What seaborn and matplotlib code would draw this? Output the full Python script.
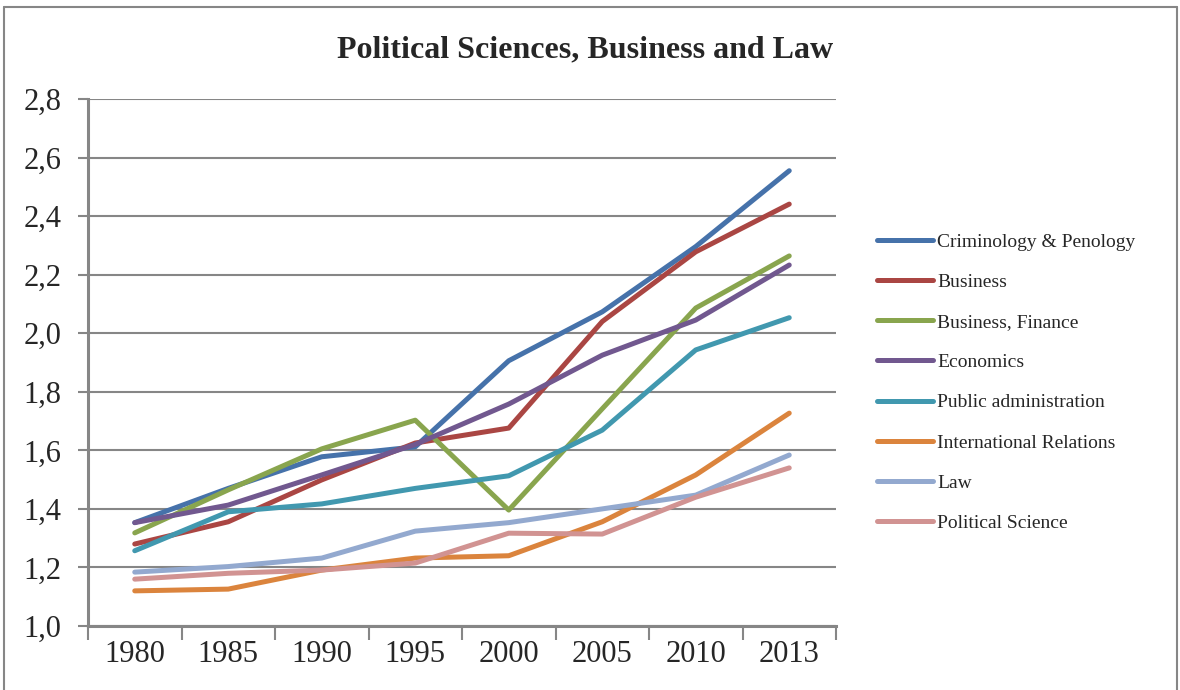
import pandas as pd
import matplotlib
matplotlib.use("Agg")
import matplotlib.pyplot as plt
from matplotlib.lines import Line2D
from matplotlib.ticker import FixedLocator, FuncFormatter, NullFormatter
import seaborn as sns

# data
years = ["1980", "1985", "1990", "1995", "2000", "2005", "2010", "2013"]
criminology = [1.353, 1.47, 1.578, 1.612, 1.906, 2.073, 2.296, 2.555]
business = [1.28, 1.356, 1.499, 1.625, 1.676, 2.04, 2.278, 2.441]
business_finance = [1.318, 1.465, 1.605, 1.703, 1.396, 1.742, 2.086, 2.264]
economics = [1.353, 1.413, 1.516, 1.62, 1.758, 1.925, 2.045, 2.233]
public_admin = [1.257, 1.39, 1.417, 1.47, 1.513, 1.669, 1.943, 2.053]
intl_relations = [1.12, 1.126, 1.191, 1.232, 1.24, 1.356, 1.516, 1.727]
law = [1.184, 1.203, 1.232, 1.324, 1.353, 1.40, 1.447, 1.584]
political_science = [1.16, 1.18, 1.191, 1.215, 1.317, 1.314, 1.44, 1.54]

series = {
    "Criminology & Penology": criminology,
    "Business": business,
    "Business, Finance": business_finance,
    "Economics": economics,
    "Public administration": public_admin,
    "International Relations": intl_relations,
    "Law": law,
    "Political Science": political_science,
}
colors = ["#4672AA", "#AA4643", "#89A54E", "#71588F",
          "#4198AF", "#DB843D", "#93A9CF", "#D19392"]

rows = []
for name, vals in series.items():
    for yr, v in zip(years, vals):
        rows.append({"Year": yr, "Value": v, "Series": name})
df = pd.DataFrame(rows)

sns.set_theme(style="white")
plt.rcParams["font.family"] = ["Liberation Serif", "DejaVu Serif"]

fig = plt.figure(figsize=(11.8, 6.9), dpi=100)
ax = fig.add_axes([88 / 1180, 64 / 690, 748 / 1180, 527 / 690])

palette = dict(zip(series.keys(), colors))
sns.lineplot(data=df, x="Year", y="Value", hue="Series", palette=palette,
             hue_order=list(series.keys()), sort=False, errorbar=None,
             linewidth=3.6, legend=False, ax=ax)
for ln in ax.lines:
    ln.set_solid_capstyle("round")
    ln.set_solid_joinstyle("round")

grid_col = "#868686"
ax.set_ylim(1.0, 2.8)
ax.set_yticks([1.0 + 0.2 * i for i in range(10)])
ax.yaxis.set_major_formatter(FuncFormatter(lambda v, p: f"{v:.1f}".replace(".", ",")))
ax.yaxis.grid(True, color=grid_col, linewidth=1.5)
ax.set_axisbelow(True)

ax.set_xlim(-0.5, len(years) - 0.5)
ax.xaxis.set_major_locator(FixedLocator([i - 0.5 for i in range(len(years) + 1)]))
ax.xaxis.set_major_formatter(NullFormatter())
ax.xaxis.set_minor_locator(FixedLocator(list(range(len(years)))))
ax.set_xticklabels(years, minor=True)
ax.tick_params(axis="x", which="major", length=10, width=1.5, color=grid_col, direction="out", bottom=True)
ax.tick_params(axis="x", which="minor", length=0, pad=10, labelsize=22, bottom=True)
ax.tick_params(axis="y", length=7, width=1.5, color=grid_col, direction="out", left=True, labelsize=22, pad=12)
ax.set_xlabel("")
ax.set_ylabel("")

for side in ["top", "right"]:
    ax.spines[side].set_visible(False)
for side in ["left", "bottom"]:
    ax.spines[side].set_color(grid_col)
    ax.spines[side].set_linewidth(2.2)

fig.text(0.496, 0.927, "Political Sciences, Business and Law",
         ha="center", va="center", fontsize=23, fontweight="bold")

handles = [Line2D([], [], color=c, linewidth=3.6, solid_capstyle="round") for c in colors]
fig.legend(handles, list(series.keys()), loc="center left",
           bbox_to_anchor=(877 / 1180, 0.4457), frameon=False, fontsize=14,
           handlelength=2.9, handletextpad=0.2, labelspacing=1.16, borderpad=0,
           borderaxespad=0)

# outer frame of the chart area
for xs, ys in [([4 / 1180, 4 / 1180], [0, 683 / 690]),
               ([4 / 1180, 1177 / 1180], [683 / 690, 683 / 690]),
               ([1177 / 1180, 1177 / 1180], [0, 683 / 690])]:
    fig.add_artist(Line2D(xs, ys, transform=fig.transFigure, color=grid_col, linewidth=1.5))

fig.savefig("out.png", dpi=100)
plt.close(fig)
